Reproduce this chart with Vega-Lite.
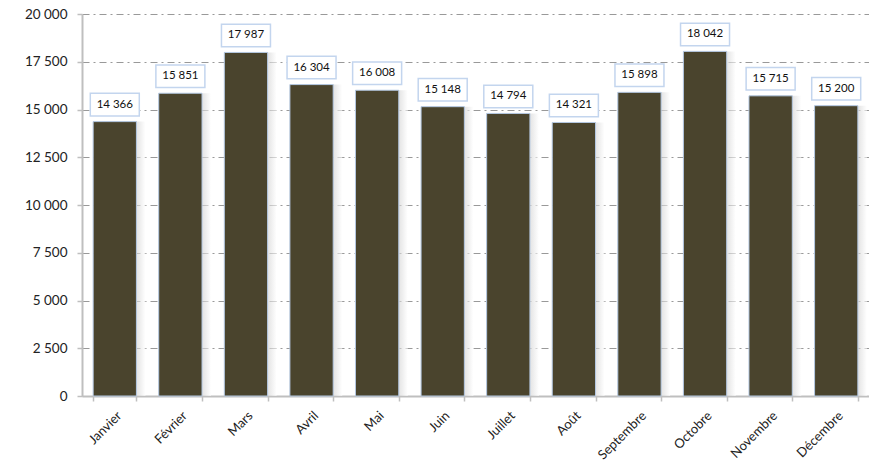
{
  "$schema": "https://vega.github.io/schema/vega-lite/v6.json",
  "width": 787,
  "height": 382,
  "autosize": {"type": "none"},
  "padding": {"left": 82, "top": 14, "right": 0, "bottom": 72},
  "background": "white",
  "config": {
    "view": {"stroke": null},
    "font": "Lato",
    "locale": {"number": {"decimal": ",", "thousands": "\u202f", "grouping": [3], "currency": ["", " €"]}}
  },
  "data": {
    "values": [
      {"mois": "Janvier", "valeur": 14366},
      {"mois": "Février", "valeur": 15851},
      {"mois": "Mars", "valeur": 17987},
      {"mois": "Avril", "valeur": 16304},
      {"mois": "Mai", "valeur": 16008},
      {"mois": "Juin", "valeur": 15148},
      {"mois": "Juillet", "valeur": 14794},
      {"mois": "Août", "valeur": 14321},
      {"mois": "Septembre", "valeur": 15898},
      {"mois": "Octobre", "valeur": 18042},
      {"mois": "Novembre", "valeur": 15715},
      {"mois": "Décembre", "valeur": 15200}
    ]
  },
  "encoding": {
    "x": {
      "field": "mois", "type": "nominal", "sort": null,
      "scale": {"paddingInner": 0.34, "paddingOuter": 0.17},
      "axis": {
        "title": null, "labelAngle": -45, "labelFontSize": 13, "labelColor": "#222",
        "domainColor": "#bfbfbf", "domainWidth": 2, "tickColor": "#bfbfbf", "tickWidth": 1.5,
        "tickBand": "extent", "tickSize": 5, "labelPadding": 8, "labelFont": "Lato"
      }
    },
    "y": {
      "field": "valeur", "type": "quantitative",
      "scale": {"domain": [0, 20000]},
      "axis": {
        "title": null, "values": [0, 2500, 5000, 7500, 10000, 12500, 15000, 17500, 20000],
        "format": ",d", "labelFontSize": 13.5, "labelColor": "#222", "labelFont": "Lato",
        "domainColor": "#bfbfbf", "domainWidth": 2, "tickColor": "#bfbfbf", "tickWidth": 1.5, "tickSize": 5,
        "grid": true, "gridColor": "#999", "gridDash": [7, 4, 2, 4], "gridWidth": 1, "labelPadding": 10
      }
    }
  },
  "layer": [
    {
      "mark": {
        "type": "bar", "xOffset": 9, "y2": 382,
        "color": {"gradient": "linear", "x1": 0, "y1": 0, "x2": 1, "y2": 0,
          "stops": [{"offset": 0, "color": "#a8a8a8"}, {"offset": 0.75, "color": "#c8c8c8"}, {"offset": 1, "color": "#ffffff"}]},
        "opacity": 0.6
      }
    },
    {
      "mark": {"type": "bar", "color": "#4a442d", "stroke": "#b4c8e2", "strokeWidth": 1}
    },
    {
      "mark": {
        "type": "point", "shape": "M-1,-0.46H1V0.46H-1Z", "size": 2401,
        "filled": true, "fill": "white", "stroke": "#c3d5ee", "strokeWidth": 1.5, "opacity": 1,
        "yOffset": -17
      }
    },
    {
      "mark": {"type": "text", "yOffset": -17, "baseline": "middle", "align": "center", "fontSize": 11.5, "color": "#111", "font": "Lato"},
      "encoding": {"text": {"field": "valeur", "type": "quantitative", "format": ",d"}}
    }
  ]
}
